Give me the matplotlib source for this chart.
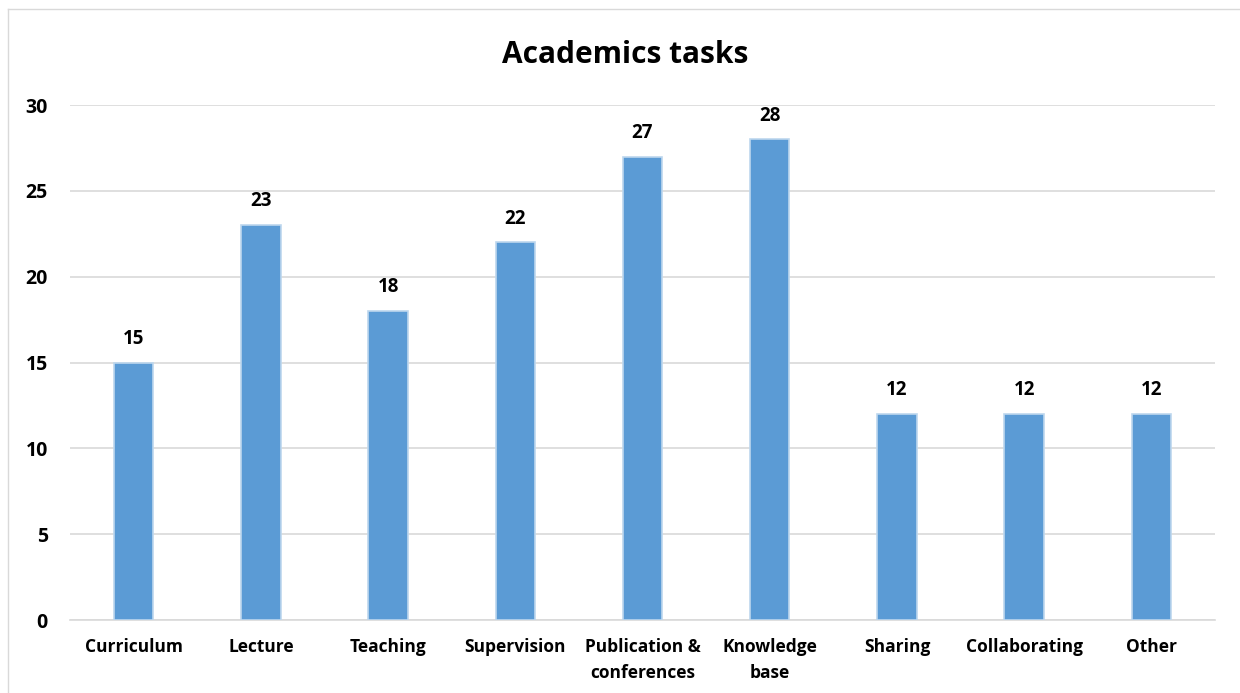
import numpy as np
import matplotlib
matplotlib.use("Agg")
import matplotlib.pyplot as plt
from matplotlib.lines import Line2D

# donnees
categories = ["Curriculum", "Lecture", "Teaching", "Supervision",
              "Publication &\nconferences", "Knowledge\nbase", "Sharing",
              "Collaborating", "Other"]
values = [15, 23, 18, 22, 27, 28, 12, 12, 12]
yticks = [0, 5, 10, 15, 20, 25, 30]
title = "Academics tasks"

plt.rcParams['font.family'] = ['Open Sans', 'DejaVu Sans']
plt.rcParams['font.weight'] = 'bold'

fig = plt.figure(figsize=(12.4, 6.93), dpi=100)
ax = fig.add_axes([70 / 1240, 1 - 620 / 693, 1145 / 1240, 515 / 693])

x = np.arange(len(categories))
ax.bar(x, values, width=0.31, color='#5B9BD5', edgecolor='#BDD7EE',
       linewidth=1.2, zorder=3)
for xi, v in zip(x, values):
    ax.text(xi, v + 0.8, str(v), ha='center', va='bottom', fontsize=13.5,
            fontweight='bold', color='black')

ax.set_xlim(-0.5, len(categories) - 0.5)
ax.set_ylim(0, 30)
ax.set_yticks(yticks)
ax.set_xticks(x)
ax.set_xticklabels(categories, fontsize=12.5, fontweight='bold',
                   linespacing=1.55)
ax.tick_params(axis='y', labelsize=14, length=0, pad=16)
ax.tick_params(axis='x', length=0, pad=13)
ax.grid(axis='y', color='#D9D9D9', linewidth=1.2, zorder=0)
for s in ['left', 'right', 'top']:
    ax.spines[s].set_visible(False)
ax.spines['bottom'].set_color('#D9D9D9')
ax.spines['bottom'].set_linewidth(1.2)

fig.text(625 / 1240, 1 - 63 / 693, title, ha='center', va='baseline',
         fontsize=21.5, fontweight='bold')

# cadre du graphique
fig.add_artist(Line2D([8 / 1240, 8 / 1240], [0, 1 - 9 / 693],
                      transform=fig.transFigure, color='#D9D9D9', lw=1))
fig.add_artist(Line2D([8 / 1240, 1], [1 - 9 / 693, 1 - 9 / 693],
                      transform=fig.transFigure, color='#D9D9D9', lw=1))

fig.savefig("out.png", dpi=100)
